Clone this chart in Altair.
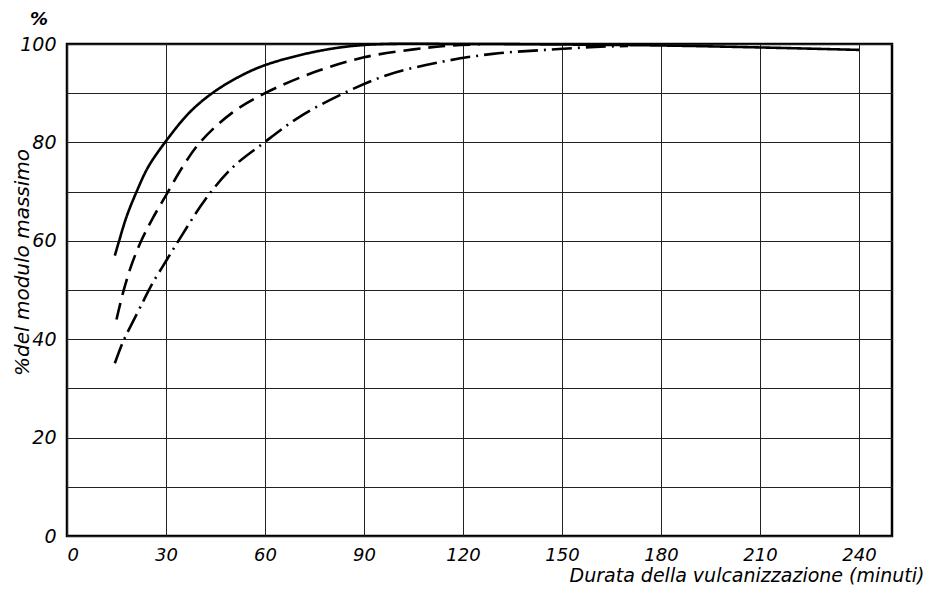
import altair as alt
import pandas as pd

# --- data ---
solid_x = [14.5, 15.8, 18.1, 21.1, 24.6, 29.7, 37, 44, 52, 60, 75, 90, 120, 150, 180, 210, 240]
solid_y = [57, 60, 65, 70, 75, 80, 86, 90, 93.3, 95.7, 98.4, 99.8, 100, 99.9, 99.7, 99.3, 98.8]

dashed_x = [15, 17, 19.5, 22.5, 26, 30.3, 35, 40.3, 50, 60, 75, 90, 105, 115, 125]
dashed_y = [44, 49.5, 55, 60, 64.6, 69.6, 75, 80, 86, 90, 94.3, 97.3, 98.9, 99.6, 99.9]

dashdot_x = [14.5, 17, 19.4, 23.1, 25.6, 30.2, 35, 41.8, 50, 59.4, 70.5, 84.2, 97.6, 113.7, 129, 145, 160, 170]
dashdot_y = [35.1, 39.5, 42.8, 47.7, 51.0, 56.1, 61.3, 68.3, 74.8, 79.8, 85.2, 90.1, 93.8, 96.4, 98, 98.8, 99.4, 99.6]

series_names = ["continua", "tratteggiata", "tratto-punto"]
x_ticks = [0, 30, 60, 90, 120, 150, 180, 210, 240]
y_ticks = [0, 10, 20, 30, 40, 50, 60, 70, 80, 90, 100]

rows = []
for name, xs, ys in zip(series_names,
                        [solid_x, dashed_x, dashdot_x],
                        [solid_y, dashed_y, dashdot_y]):
    for i, (a, b) in enumerate(zip(xs, ys)):
        rows.append({"serie": name, "ord": i, "t": a, "v": b})
df = pd.DataFrame(rows)

FONT = "DejaVu Sans"

chart = alt.Chart(df).mark_line(
    interpolate="catmull-rom", strokeWidth=2.6, color="black", strokeCap="butt"
).encode(
    x=alt.X("t:Q", scale=alt.Scale(domain=[0, 250], nice=False, zero=False),
            axis=alt.Axis(values=x_ticks, title="Durata della vulcanizzazione (minuti)",
                          labelFontSize=18, labelPadding=10, ticks=False, domain=False,
                          gridColor="#222", gridWidth=1, gridOpacity=1,
                          titleFontSize=19, titleAnchor="end", titleAlign="right",
                          titleX=857, titleY=45, titleBaseline="alphabetic")),
    y=alt.Y("v:Q", scale=alt.Scale(domain=[0, 100], nice=False),
            axis=alt.Axis(values=y_ticks, title="%del modulo massimo",
                          labelExpr="datum.value % 20 == 0 ? datum.label : ''",
                          labelFontSize=19, labelPadding=11, ticks=False, domain=False,
                          gridColor="#222", gridWidth=1, gridOpacity=1,
                          titleFontSize=20, titleX=-45, titleY=218,
                          titleAlign="center", titleBaseline="middle")),
    detail="serie:N",
    order="ord:Q",
    strokeDash=alt.StrokeDash("serie:N",
                              scale=alt.Scale(domain=series_names,
                                              range=[[1, 0], [17, 8], [20, 6, 2, 6]]),
                              legend=None),
).properties(
    width=825,
    height=492,
    autosize=alt.AutoSizeParams(type="none"),
    padding={"left": 59, "top": 36, "right": 32, "bottom": 57},
    background="white",
    title=alt.TitleParams(text="%", anchor="start", frame="group", dx=-37,
                          fontSize=18, fontStyle="italic", fontWeight="bold",
                          font=FONT, color="black", offset=6),
).configure_view(
    stroke="black", strokeWidth=2.5, fill="white"
).configure_axis(
    labelFont=FONT, titleFont=FONT, labelColor="black", titleColor="black",
    labelFontStyle="italic", titleFontStyle="italic",
    titleFontWeight="normal",
)

chart.save("out.html", embed_options={"renderer": "svg", "actions": False})
